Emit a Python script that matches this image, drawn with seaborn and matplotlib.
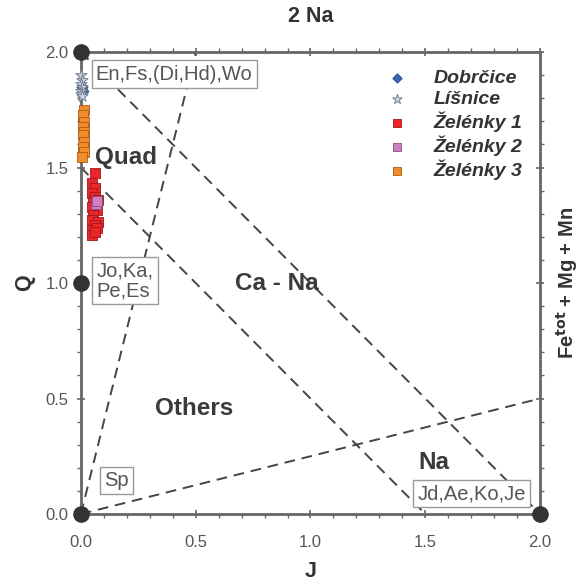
import numpy as np
import pandas as pd
import matplotlib
matplotlib.use("Agg")
import matplotlib.pyplot as plt
import seaborn as sns
from matplotlib.ticker import MultipleLocator

# Data: J vs Q (Morimoto pyroxene classification)
dobrcice_J = [0.005, 0.008]
dobrcice_Q = [1.85, 1.83]

lisnice_J = [0.0, 0.003, 0.0, 0.004, 0.0, 0.002, 0.003]
lisnice_Q = [1.90, 1.88, 1.86, 1.85, 1.83, 1.82, 1.81]

zel1_J = [0.061, 0.048, 0.061, 0.048, 0.061, 0.052, 0.074, 0.048, 0.070,
          0.052, 0.048, 0.074, 0.061, 0.048, 0.070, 0.048, 0.061]
zel1_Q = [1.476, 1.433, 1.411, 1.390, 1.372, 1.351, 1.359, 1.329, 1.316,
          1.294, 1.273, 1.264, 1.251, 1.229, 1.238, 1.208, 1.221]

zel2_J = [0.065, 0.072]
zel2_Q = [1.342, 1.356]

zel3_J = [0.012, 0.008, 0.015, 0.010, 0.014, 0.008, 0.012, 0.010, 0.015, 0.006]
zel3_Q = [1.749, 1.727, 1.697, 1.675, 1.654, 1.641, 1.610, 1.589, 1.567, 1.545]

# boundary lines (J, Q endpoints)
bound_lines = {
    "Q+J=2": ([0.0, 2.0], [2.0, 0.0]),
    "Q+J=1.5": ([0.0, 1.5], [1.5, 0.0]),
    "J/(Q+J)=0.2": ([0.0, 0.5], [0.0, 2.0]),
    "J/(Q+J)=0.8": ([0.0, 2.0], [0.0, 0.5]),
}
corner_J = [0.0, 0.0, 0.0, 2.0]
corner_Q = [2.0, 1.0, 0.0, 0.0]

rows = []
for name, js, qs in [("Dobrčice", dobrcice_J, dobrcice_Q),
                     ("Líšnice", lisnice_J, lisnice_Q),
                     ("Želénky 1", zel1_J, zel1_Q),
                     ("Želénky 2", zel2_J, zel2_Q),
                     ("Želénky 3", zel3_J, zel3_Q)]:
    for j, q in zip(js, qs):
        rows.append({"J": j, "Q": q, "loc": name})
df = pd.DataFrame(rows)

sns.set_style("ticks")
plt.rcParams['font.family'] = ['Liberation Sans', 'DejaVu Sans']

axc = "#666666"
txtc = "#333333"

fig = plt.figure(figsize=(5.82, 5.85), dpi=100)
ax = fig.add_axes([0.139, 0.1214, 0.789, 0.7896])

for name, (js, qs) in bound_lines.items():
    ax.plot(js, qs, color="#444444", lw=1.4, dashes=(5.5, 3.5), zorder=2)

palette = {"Dobrčice": "#3a63b0", "Líšnice": "#c9d3e3", "Želénky 1": "#e8262b",
           "Želénky 2": "#cf7fc0", "Želénky 3": "#f08c2c"}
markers = {"Dobrčice": "D", "Líšnice": "*", "Želénky 1": "s",
           "Želénky 2": "s", "Želénky 3": "s"}
sizes = {"Dobrčice": 32, "Líšnice": 75, "Želénky 1": 50,
         "Želénky 2": 50, "Želénky 3": 45}
edges = {"Dobrčice": "#2a4a88", "Líšnice": "#6a7588", "Želénky 1": "#a01818",
         "Želénky 2": "#8a4a80", "Želénky 3": "#b05a10"}
for name in palette:
    sub = df[df["loc"] == name]
    sns.scatterplot(data=sub, x="J", y="Q", ax=ax, marker=markers[name],
                    color=palette[name], s=sizes[name], edgecolor=edges[name],
                    linewidth=0.6, label=name, zorder=4, clip_on=False)

ax.scatter(corner_J, corner_Q, s=120, color="#333333", zorder=6, clip_on=False)

ax.set_xlim(0, 2)
ax.set_ylim(0, 2)
ax.xaxis.set_major_locator(MultipleLocator(0.5))
ax.xaxis.set_minor_locator(MultipleLocator(0.1))
ax.yaxis.set_major_locator(MultipleLocator(0.5))
ax.yaxis.set_minor_locator(MultipleLocator(0.1))
ax.tick_params(which="both", top=True, right=True, direction="out",
               color=axc, labelcolor="#555555", labelsize=12)
ax.tick_params(which="major", length=6, width=1.2, direction="inout")
ax.tick_params(which="minor", length=3, width=1.0)
ax.tick_params(axis="x", which="major", pad=12)
ax.tick_params(axis="y", which="major", pad=6)
ax.set_xticklabels([f"{v:.1f}" for v in ax.get_xticks()])
ax.set_yticklabels([f"{v:.1f}" for v in ax.get_yticks()])
for sp in ax.spines.values():
    sp.set_visible(True)
    sp.set_color(axc)
    sp.set_linewidth(2)

ax.set_xlabel("J", fontsize=15.5, fontweight="bold", color=txtc, labelpad=8)
ax.set_ylabel("Q", fontsize=15.5, fontweight="bold", color=txtc, labelpad=7)
ax.set_title("2 Na", fontsize=15.5, fontweight="bold", color=txtc, pad=22)
ax.text(1.059, 0.5, "Fe$^{\\mathbf{tot}}$ + Mg + Mn", transform=ax.transAxes,
        rotation=90, ha="center", va="center", fontsize=14.5, fontweight="bold",
        color=txtc)

# field names
for s, x, y in [("Quad", 0.061, 1.545), ("Ca - Na", 0.854, 1.0),
                ("Others", 0.492, 0.455), ("Na", 1.538, 0.225)]:
    ax.text(x, y, s, fontsize=17.5, fontweight="bold", color="#3a3a3a",
            ha="left" if s == "Quad" else "center", va="center", zorder=5)

bbox = dict(boxstyle="square,pad=0.2", fc="white", ec="#999999", lw=1)
for s, x, y in [("En,Fs,(Di,Hd),Wo", 0.065, 1.905), ("Jo,Ka,\nPe,Es", 0.068, 1.01),
                ("Sp", 0.1, 0.143), ("Jd,Ae,Ko,Je", 1.465, 0.087)]:
    ax.text(x, y, s, fontsize=14.5, color="#555555", ha="left", va="center",
            bbox=bbox, zorder=5, linespacing=1.05)

leg = ax.legend(loc="upper right", bbox_to_anchor=(1.0, 1.0), frameon=False,
                handletextpad=0.9, labelspacing=0.18, markerscale=0.85,
                prop={"style": "italic", "weight": "bold", "size": 14})
for t in leg.get_texts():
    t.set_color(txtc)

fig.savefig("out.png", dpi=100)
